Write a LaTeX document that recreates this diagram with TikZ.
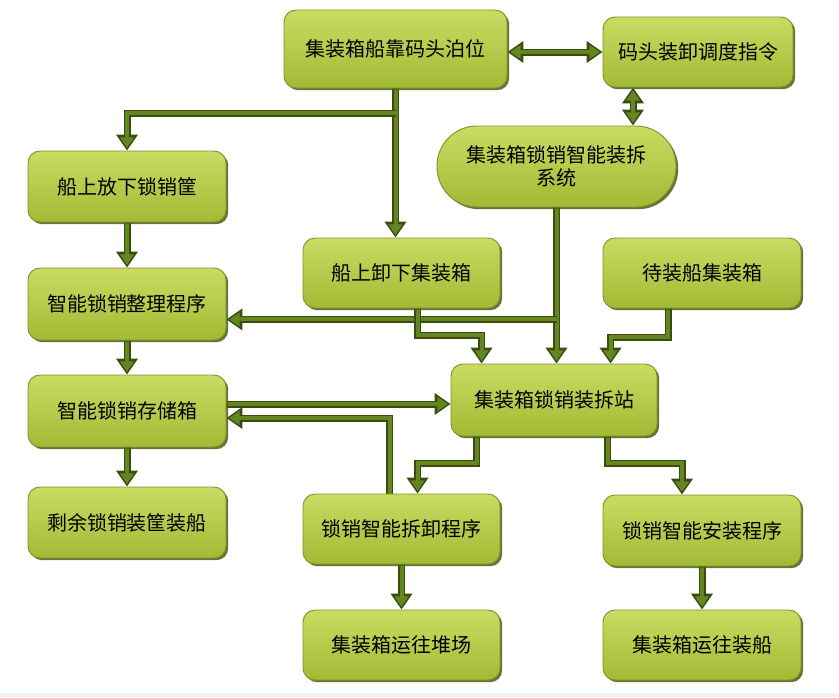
\documentclass[tikz,border=0pt]{standalone}
\usepackage{fontspec}
\newfontfamily\cjk{Noto Sans CJK SC}
\usetikzlibrary{arrows.meta,shadows,calc,backgrounds}
\definecolor{wiredark}{HTML}{3A4D0E}
\definecolor{wirefill}{HTML}{638620}
\definecolor{boxtop}{HTML}{CADB62}
\definecolor{boxmid}{HTML}{ECF4B2}
\definecolor{boxbot}{HTML}{A2BA34}
\definecolor{boxedge}{HTML}{7E912A}
\definecolor{boxshadow}{HTML}{4C5C16}
\tikzset{
  box/.style={rectangle, rounded corners=12pt, draw=boxedge, line width=0.9pt,
    top color=boxtop, middle color=boxmid, bottom color=boxbot,
    drop shadow={shadow xshift=2.2pt, shadow yshift=-2.2pt, fill=boxshadow, opacity=0.85},
    font=\cjk\fontsize{20}{23}\selectfont, align=center, inner sep=0pt, text=black},
  wo/.style={draw=wiredark, line width=7pt, >={Triangle[width=21pt,length=16pt]}},
  wi/.style={draw=wirefill, line width=4pt, >={Triangle[width=13.5pt,length=10.5pt]}, shorten >=2.7pt},
  wii/.style={wi, shorten <=2.7pt}
}
\newcommand\wire[2]{\draw[wo,#1] #2; \draw[wi,#1] #2;}
\newcommand\wiree[2]{\draw[wo,#1] #2; \draw[wii,#1] #2;}
\begin{document}
\begin{tikzpicture}[x=1pt,y=-1pt]
\useasboundingbox (0,0) rectangle (839,697);
\begin{scope}[on background layer]
\fill[white] (0,0) rectangle (839,697);
\end{scope}
\fill[gray!12] (0,693) rectangle (839,697);

\node[box, minimum width=223pt, minimum height=78pt] (top) at (395.5,49) {集装箱船靠码头泊位};
\node[box, minimum width=190pt, minimum height=70pt] (disp) at (698,52) {码头装卸调度指令};
\node[box, rounded corners=40pt, minimum width=239pt, minimum height=81pt] (sys) at (556.5,166.5) {集装箱锁销智能装拆\\系统};
\node[box, minimum width=198pt, minimum height=71pt] (put) at (127,186.5) {船上放下锁销筐};
\node[box, minimum width=197pt, minimum height=70pt] (unload) at (401.5,273) {船上卸下集装箱};
\node[box, minimum width=198pt, minimum height=70pt] (wait) at (702,273) {待装船集装箱};
\node[box, minimum width=198pt, minimum height=72pt] (sort) at (127,304) {智能锁销整理程序};
\node[box, minimum width=206pt, minimum height=72pt] (station) at (554,400) {集装箱锁销装拆站};
\node[box, minimum width=198pt, minimum height=72pt] (store) at (127,411) {智能锁销存储箱};
\node[box, minimum width=198pt, minimum height=71pt] (remain) at (127,522.5) {剩余锁销装筐装船};
\node[box, minimum width=197pt, minimum height=70pt] (remove) at (401.5,529) {锁销智能拆卸程序};
\node[box, minimum width=198pt, minimum height=71pt] (install) at (702,530.5) {锁销智能安装程序};
\node[box, minimum width=197pt, minimum height=70pt] (yard) at (401.5,645) {集装箱运往堆场};
\node[box, minimum width=198pt, minimum height=70pt] (ship) at (702,645) {集装箱运往装船};

\coordinate (tb) at ($(top.south)+(0,25)$);
\coordinate (dd) at ($(disp.south)+(-65,0)$);
\coordinate (b1) at ($(sys.south)+(0,112)$);
\coordinate (ua) at ($(unload.south)+(16,0)$);
\coordinate (wa) at ($(wait.south)+(-34,0)$);
\coordinate (sa) at ($(station.south west)+(26,0)$);
\coordinate (sb) at ($(station.south west)+(157,0)$);
\coordinate (ra) at ($(remove.north)+(-12,0)$);
\coordinate (sto1) at ($(store.east)+(0,-7)$);
\coordinate (sto2) at ($(store.east)+(0,7)$);
\coordinate (st1) at ($(station.north west)+(31,0)$);
\coordinate (st2) at ($(station.north west)+(160,0)$);
\coordinate (rm1) at ($(remove.north)+(16,0)$);
\coordinate (in1) at ($(install.north)+(-20,0)$);

\begin{scope}[on background layer]
\wire{->}{(top.south) -- (top.south |- unload.north)}
\wire{->}{(tb) -| (put.north)}
\wiree{<->}{(top.east |- disp.west) -- (disp.west)}
\wiree{<->}{(dd) -- (dd |- sys.north)}
\wire{->}{(sys.south) -- (sys.south |- station.north)}
\wire{->}{(b1) -- (b1 -| sort.east)}
\wire{->}{(ua) -- ++(0,27) -| (st1)}
\wire{->}{(wa) -- ++(0,29) -| (st2)}
\wire{->}{(put.south) -- (sort.north)}
\wire{->}{(sort.south) -- (store.north)}
\wire{->}{(store.south) -- (remain.north)}
\wire{->}{(sto1) -- (sto1 -| station.west)}
\wire{->}{(ra) |- (sto2)}
\wire{->}{(sa) -- ++(0,27) -| (rm1)}
\wire{->}{(sb) -- ++(0,27) -| (in1)}
\wire{->}{(remove.south) -- (yard.north)}
\wire{->}{(install.south) -- (ship.north)}
\end{scope}
\end{tikzpicture}
\end{document}
